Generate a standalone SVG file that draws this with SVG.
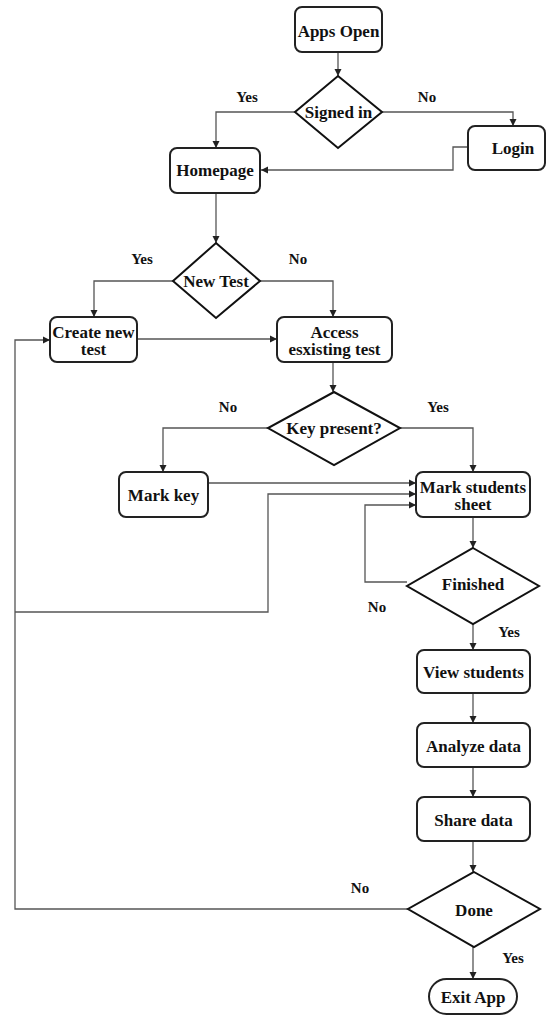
<svg xmlns="http://www.w3.org/2000/svg" width="548" height="1017" viewBox="0 0 548 1017">
<defs>
<marker id="ah" markerWidth="8" markerHeight="8" refX="7" refY="4" orient="auto" markerUnits="userSpaceOnUse">
<path d="M0,0.5 L7,4 L0,7.5 Z" fill="#222"/>
</marker>
<style>
.box{fill:#fff;stroke:#222;stroke-width:2}
.dia{fill:#fff;stroke:#111;stroke-width:2}
.t{font-family:"Liberation Serif","Times New Roman","DejaVu Serif",serif;font-weight:bold;font-size:17px;fill:#111;text-anchor:middle;dominant-baseline:central}
.lbl{font-family:"Liberation Serif","Times New Roman","DejaVu Serif",serif;font-weight:bold;font-size:15px;fill:#111;text-anchor:middle;dominant-baseline:central}
.c{fill:none;stroke:#555;stroke-width:1.3;marker-end:url(#ah)}
</style>
</defs>
<rect width="548" height="1017" fill="#fff"/>
<g id="connectors">
<path class="c" d="M338,52 V76"/>
<path class="c" d="M295,112 H216 V148"/>
<path class="c" d="M382,112 H513 V126"/>
<path class="c" d="M468,147 H453 V170 H261"/>
<path class="c" d="M216,193 V243"/>
<path class="c" d="M173,281 H94 V317"/>
<path class="c" d="M260,281 H333 V317"/>
<path class="c" d="M137,339 H277"/>
<path class="c" d="M333,362 V392"/>
<path class="c" d="M268,428 H163 V472"/>
<path class="c" d="M400,428 H473 V472"/>
<path class="c" d="M208,483 H416"/>
<path class="c" d="M15,612 H268 V494 H416"/>
<path class="c" d="M407,582 H365 V505 H416"/>
<path class="c" d="M473,517 V548"/>
<path class="c" d="M473,624 V650"/>
<path class="c" d="M473,693 V723"/>
<path class="c" d="M473,767 V797"/>
<path class="c" d="M473,841 V872"/>
<path class="c" d="M408,909 H15 V340 H50"/>
<path class="c" d="M473,947 V979"/>
<text class="lbl" x="247" y="97">Yes</text>
<text class="lbl" x="427" y="97">No</text>
<text class="lbl" x="142" y="259">Yes</text>
<text class="lbl" x="298" y="259">No</text>
<text class="lbl" x="228" y="407">No</text>
<text class="lbl" x="438" y="407">Yes</text>
<text class="lbl" x="377" y="607">No</text>
<text class="lbl" x="509" y="632">Yes</text>
<text class="lbl" x="360" y="888">No</text>
<text class="lbl" x="513" y="958">Yes</text>
</g>
<g id="apps-open"><rect class="box" x="295" y="7" width="87" height="45" rx="7"/><text class="t" x="338.5" y="31">Apps Open</text></g>
<g id="signed-in"><polygon class="dia" points="338,76 382,112 338,148 295,112"/><text class="t" x="338.5" y="112">Signed in</text></g>
<g id="login"><rect class="box" x="468" y="126" width="77" height="44" rx="7"/><text class="t" x="513" y="148">Login</text></g>
<g id="homepage"><rect class="box" x="170" y="148" width="90" height="45" rx="7"/><text class="t" x="215" y="170.5">Homepage</text></g>
<g id="new-test"><polygon class="dia" points="216,243 260,281 216,318 173,281"/><text class="t" x="216" y="281">New Test</text></g>
<g id="create-new-test"><rect class="box" x="50" y="317" width="87" height="45" rx="7"/><text class="t" x="93.5" y="332">Create new</text><text class="t" x="93.5" y="349">test</text></g>
<g id="access-test"><rect class="box" x="277" y="317" width="115" height="45" rx="7"/><text class="t" x="334.5" y="332">Access</text><text class="t" x="334.5" y="349">esxisting test</text></g>
<g id="key-present"><polygon class="dia" points="334,392 400,428 334,465 268,428"/><text class="t" x="334" y="428">Key present?</text></g>
<g id="mark-key"><rect class="box" x="119" y="472" width="89" height="45" rx="7"/><text class="t" x="163.5" y="495">Mark key</text></g>
<g id="mark-students"><rect class="box" x="416" y="472" width="114" height="45" rx="7"/><text class="t" x="473" y="487">Mark students</text><text class="t" x="473" y="504">sheet</text></g>
<g id="finished"><polygon class="dia" points="473,548 539,586 473,624 407,586"/><text class="t" x="473" y="584">Finished</text></g>
<g id="view-students"><rect class="box" x="417" y="650" width="113" height="43" rx="7"/><text class="t" x="473.5" y="672">View students</text></g>
<g id="analyze-data"><rect class="box" x="417" y="723" width="113" height="44" rx="7"/><text class="t" x="473.5" y="746">Analyze data</text></g>
<g id="share-data"><rect class="box" x="417" y="797" width="113" height="44" rx="7"/><text class="t" x="473.5" y="820">Share data</text></g>
<g id="done"><polygon class="dia" points="474,872 540,909 474,947 408,909"/><text class="t" x="474" y="910">Done</text></g>
<g id="exit-app"><rect class="box" x="429" y="979" width="88" height="35" rx="17.5"/><text class="t" x="473" y="997">Exit App</text></g>
</svg>
